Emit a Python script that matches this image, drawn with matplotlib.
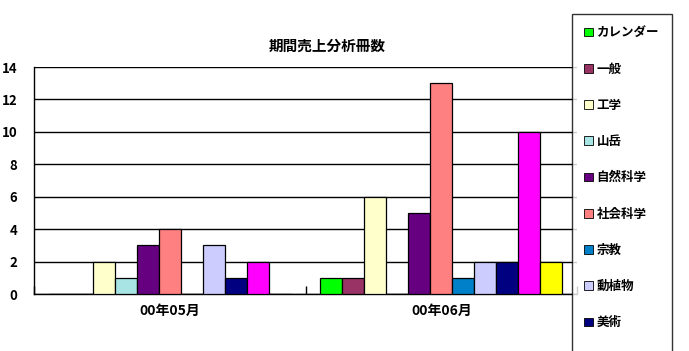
import matplotlib
matplotlib.use('Agg')

import matplotlib.pyplot as plt
from matplotlib.patches import Patch
import numpy as np

plt.rcParams['font.family'] = ['Noto Sans CJK JP', 'DejaVu Sans']
plt.rcParams['font.weight'] = 'bold'

title = '期間売上分析冊数'
months = ['00年05月', '00年06月']
series = ['カレンダー', '一般', '工学', '山岳', '自然科学', '社会科学',
          '宗教', '動植物', '美術', '文学', '旅行']
colors = ['#00FF00', '#993366', '#FFFFCC', '#A8E4E4', '#660080', '#FF8080',
          '#0080C8', '#CCCCFF', '#000080', '#FF00FF', '#FFFF00']
may = [0, 0, 2, 1, 3, 4, 0, 3, 1, 2, 0]
june = [1, 1, 6, 0, 5, 13, 1, 2, 2, 10, 2]
yticks = [0, 2, 4, 6, 8, 10, 12, 14]

def run():
    fig = plt.figure(figsize=(6.89, 3.51), dpi=100)
    ax = fig.add_axes([34 / 689, 1 - 294 / 351, 543 / 689, 227 / 351])

    n = len(series)
    width = 0.081
    x = np.arange(len(months))
    for i, name in enumerate(series):
        vals = [may[i], june[i]]
        ax.bar(x + (i - (n - 1) / 2) * width, vals, width,
               color=colors[i], edgecolor='black', linewidth=0.9,
               label=name, zorder=3)

    ax.set_xlim(-0.5, 1.5)
    ax.set_ylim(0, 14)
    ax.set_yticks(yticks)
    ax.yaxis.grid(True, color='black', linewidth=1)
    ax.set_axisbelow(True)
    ax.set_xticks(x)
    ax.set_xticklabels(months, fontsize=10, fontweight='bold')
    ax.set_xticks([-0.5, 0.5, 1.5], minor=True)
    ax.tick_params(axis='x', which='major', length=0, pad=7)
    ax.tick_params(axis='x', which='minor', direction='in', length=6, width=1)
    ax.tick_params(axis='y', length=0, pad=12, labelsize=9.5)
    for lab in ax.get_yticklabels():
        lab.set_fontweight('bold')
    for s in ['top', 'right']:
        ax.spines[s].set_visible(False)
    for s in ['left', 'bottom']:
        ax.spines[s].set_linewidth(1)
        ax.spines[s].set_color('black')

    fig.text(327 / 689, 1 - 46 / 351, title, ha='center', va='center',
             fontsize=10.5, fontweight='bold')

    # legend runs past the bottom edge, as in the original
    handles = [Patch(facecolor=c, edgecolor='black', linewidth=0.6) for c in colors]
    leg = fig.legend(handles, series, loc='upper left',
                     bbox_to_anchor=(572 / 689, 1 - 14 / 351),
                     frameon=True, fancybox=False, edgecolor='black',
                     fontsize=9, handlelength=0.7, handleheight=0.7,
                     handletextpad=0.3, labelspacing=1.86, borderpad=0.98,
                     borderaxespad=0)
    leg.get_frame().set_linewidth(1)
    for t in leg.get_texts():
        t.set_fontweight('bold')

    return fig

def main():
    fig = run()
    fig.savefig('out.png', dpi=100)

if __name__ == '__main__':
    main()
